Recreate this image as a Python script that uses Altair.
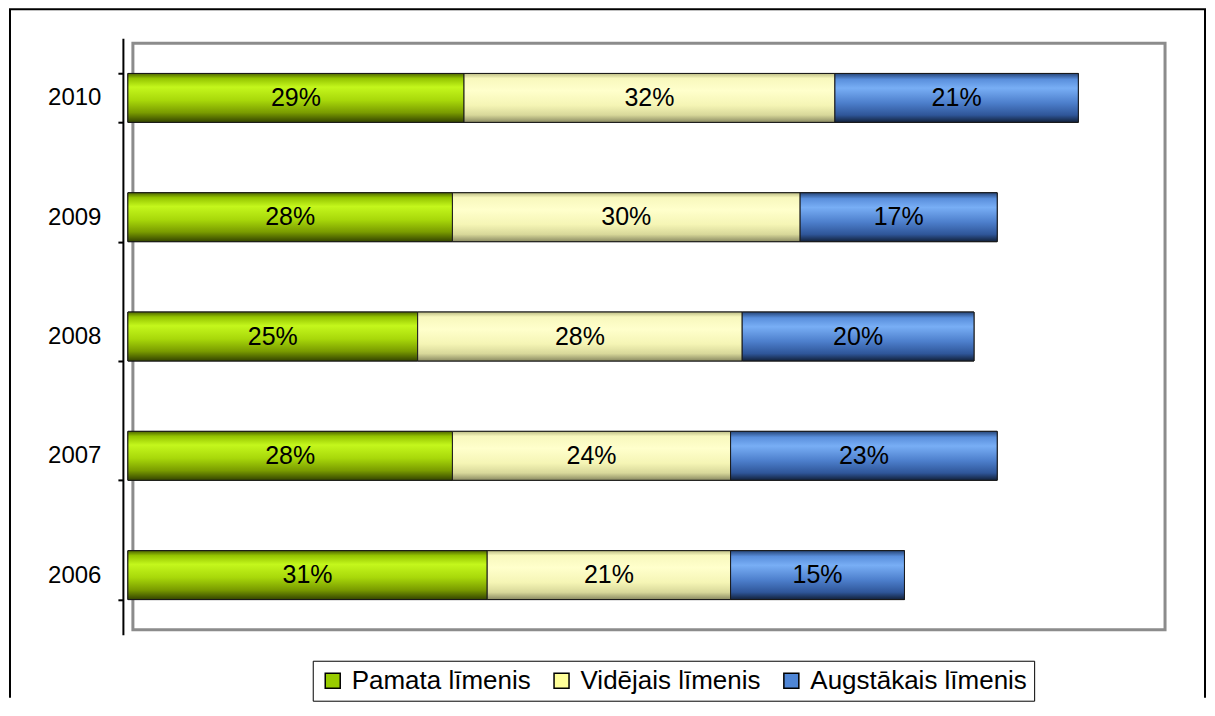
import altair as alt
import pandas as pd

years = ["2006", "2007", "2008", "2009", "2010"]
series = ["Pamata līmenis", "Vidējais līmenis", "Augstākais līmenis"]
pamata = [31, 28, 25, 28, 29]
videjais = [21, 24, 28, 30, 32]
augstakais = [15, 23, 20, 17, 21]

rows = []
for i, yr in enumerate(years):
    for k, (name, vals) in enumerate(zip(series, [pamata, videjais, augstakais])):
        rows.append({"year": yr, "series": name, "order": k, "value": vals[i]})
df = pd.DataFrame(rows)

FONT = "Liberation Sans"
flat = ["#99cc00", "#ffff99", "#4f86d6"]


def grad(stops):
    return alt.Gradient(
        gradient="linear", x1=0, y1=0, x2=0, y2=1,
        stops=[alt.GradientStop(offset=o, color=c) for o, c in stops],
    )


gradients = [
    grad([(0, "#4f6600"), (0.1, "#94c400"), (0.28, "#c4f71c"), (0.55, "#a8d80a"),
          (0.8, "#7a9c00"), (1, "#344400")]),
    grad([(0, "#bdbd85"), (0.1, "#f8f8bd"), (0.35, "#ffffcc"), (0.65, "#f5f5b5"),
          (0.85, "#d8d89a"), (1, "#8a8a62")]),
    grad([(0, "#26467a"), (0.12, "#5a8fdc"), (0.3, "#78aef5"), (0.6, "#4d7fcc"),
          (0.85, "#2f5699"), (1, "#12213a")]),
]

y_enc = alt.Y(
    "year:N", sort=years[::-1], title=None,
    scale=alt.Scale(range=[-5, 592], paddingInner=0.59, paddingOuter=0.295),
    axis=alt.Axis(offset=10, domainColor="black", domainWidth=2, tickColor="black",
                  tickWidth=2, tickSize=5, tickBand="extent", labelFontSize=24,
                  labelFont=FONT, labelColor="black", labelPadding=17, grid=False),
)
x_scale = alt.Scale(domain=[0, 90], range=[-5, 1039])

base = alt.Chart(df).transform_stack(
    stack="value", groupby=["year"], as_=["x0", "x1"],
    sort=[alt.SortField("order", order="ascending")],
)

flat_layer = base.mark_bar(stroke="black", strokeWidth=1).encode(
    x=alt.X("x0:Q", scale=x_scale, axis=None),
    x2="x1:Q",
    y=y_enc,
    color=alt.Color(
        "series:N", sort=series,
        scale=alt.Scale(domain=series, range=flat),
        legend=alt.Legend(
            title=None, orient="none", legendX=180, legendY=618, direction="horizontal",
            strokeColor="black", padding=7, symbolType="square", symbolSize=225,
            symbolStrokeColor="black", symbolStrokeWidth=1.5, labelFontSize=26,
            labelFont=FONT, labelColor="black", columnPadding=17, labelOffset=6,
            labelLimit=0,
        ),
    ),
)

grad_layers = []
for k in range(3):
    grad_layers.append(
        base.transform_filter(alt.datum.order == k)
        .mark_bar(fill=gradients[k], stroke="#1a1a1a", strokeWidth=1)
        .encode(x=alt.X("x0:Q", scale=x_scale, axis=None), x2="x1:Q", y=y_enc)
    )

text_layer = base.transform_calculate(
    mid="(datum.x0 + datum.x1) / 2", label="datum.value + '%'"
).mark_text(fontSize=25, font=FONT, color="black").encode(
    x=alt.X("mid:Q", scale=x_scale, axis=None), y=y_enc, text="label:N"
)

one = pd.DataFrame({"z": [0]})
frame_left = alt.Chart(one).mark_rule(color="black", strokeWidth=2).encode(
    x=alt.value(-123), y=alt.value(-34), y2=alt.value(655))
frame_top = alt.Chart(one).mark_rule(color="black", strokeWidth=2).encode(
    x=alt.value(-124), x2=alt.value(1074), y=alt.value(-34))
frame_right = alt.Chart(one).mark_rule(color="black", strokeWidth=2).encode(
    x=alt.value(1073), y=alt.value(-34), y2=alt.value(655))

chart = alt.layer(
    flat_layer, *grad_layers, text_layer, frame_left, frame_top, frame_right
).properties(
    width=1033, height=587, padding=0
).configure_view(
    stroke="#8c8c8c", strokeWidth=3
)

chart.save("out.html", embed_options={"renderer": "svg", "actions": False})
